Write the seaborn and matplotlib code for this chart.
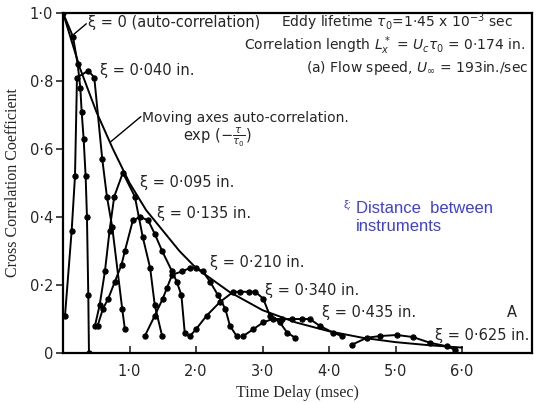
import seaborn as sns
import pandas as pd
import matplotlib.pyplot as plt

# time delay (msec) / cross correlation values
t_xi000 = [0.0, 0.15, 0.22, 0.26, 0.28, 0.31, 0.34, 0.36, 0.38, 0.39]
r_xi000 = [1.0, 0.93, 0.85, 0.78, 0.71, 0.63, 0.52, 0.40, 0.17, 0.0]

t_xi040 = [0.03, 0.13, 0.18, 0.21, 0.38, 0.47, 0.59, 0.66, 0.74, 0.89, 0.93]
r_xi040 = [0.11, 0.36, 0.52, 0.81, 0.83, 0.81, 0.57, 0.46, 0.37, 0.13, 0.07]

t_xi095 = [0.48, 0.55, 0.63, 0.70, 0.77, 0.90, 1.08, 1.20, 1.31, 1.38, 1.49]
r_xi095 = [0.08, 0.14, 0.24, 0.36, 0.46, 0.53, 0.46, 0.34, 0.25, 0.14, 0.05]

t_xi135 = [0.52, 0.60, 0.68, 0.78, 0.88, 0.93, 1.05, 1.16, 1.28, 1.38, 1.49, 1.64, 1.71, 1.78, 1.83]
r_xi135 = [0.08, 0.13, 0.16, 0.21, 0.26, 0.30, 0.39, 0.40, 0.39, 0.35, 0.30, 0.24, 0.21, 0.17, 0.06]

t_xi210 = [1.23, 1.38, 1.50, 1.56, 1.64, 1.79, 1.91, 2.00, 2.10, 2.21, 2.33, 2.44, 2.51, 2.61]
r_xi210 = [0.05, 0.11, 0.16, 0.19, 0.23, 0.24, 0.25, 0.25, 0.24, 0.21, 0.17, 0.13, 0.08, 0.05]

t_xi340 = [1.91, 2.00, 2.16, 2.36, 2.56, 2.66, 2.79, 2.89, 3.01, 3.11, 3.26, 3.37, 3.49]
r_xi340 = [0.05, 0.07, 0.11, 0.15, 0.18, 0.18, 0.18, 0.18, 0.16, 0.11, 0.09, 0.06, 0.045]

t_xi435 = [2.71, 2.86, 3.01, 3.15, 3.30, 3.45, 3.60, 3.71, 3.86, 4.06, 4.19]
r_xi435 = [0.05, 0.07, 0.09, 0.10, 0.10, 0.10, 0.10, 0.10, 0.08, 0.06, 0.05]

t_xi625 = [4.35, 4.57, 4.77, 5.02, 5.26, 5.52, 5.77, 5.89]
r_xi625 = [0.025, 0.045, 0.05, 0.053, 0.047, 0.03, 0.02, 0.01]

# moving axes auto-correlation envelope
t_env = [0.0, 0.25, 0.5, 0.75, 1.0, 1.25, 1.5, 1.75, 2.0, 2.5, 3.0, 3.5, 4.0, 4.5, 5.0, 5.5, 6.0]
r_env = [1.0, 0.84, 0.71, 0.60, 0.50, 0.42, 0.36, 0.30, 0.25, 0.18, 0.126, 0.09, 0.064, 0.045, 0.032, 0.023, 0.016]

curves = {
    '0': (t_xi000, r_xi000),
    '0.040': (t_xi040, r_xi040),
    '0.095': (t_xi095, r_xi095),
    '0.135': (t_xi135, r_xi135),
    '0.210': (t_xi210, r_xi210),
    '0.340': (t_xi340, r_xi340),
    '0.435': (t_xi435, r_xi435),
    '0.625': (t_xi625, r_xi625),
}

rows = []
for xi, (ts, rs) in curves.items():
    for t, r in zip(ts, rs):
        rows.append({'xi': xi, 'tau': t, 'R': r})
df = pd.DataFrame(rows)
env = pd.DataFrame({'tau': t_env, 'R': r_env})

sns.set_style('white')
plt.rcParams['font.family'] = ['DejaVu Sans']

fig = plt.figure(figsize=(5.4, 4.03), dpi=100)
ax = fig.add_axes([0.1167, 0.124, 0.8683, 0.844])

sns.lineplot(data=df, x='tau', y='R', units='xi', estimator=None, sort=False,
             color='black', linewidth=1.4, marker='o', markersize=3.8,
             markeredgecolor='black', ax=ax)
sns.lineplot(data=env, x='tau', y='R', color='black', linewidth=1.4, ax=ax)

ax.set_xlim(0, 7.05)
ax.set_ylim(0, 1.0)
for s in ax.spines.values():
    s.set_color('black')
    s.set_linewidth(1.6)

ax.set_xticks([1, 2, 3, 4, 5, 6])
ax.set_xticklabels(['1·0', '2·0', '3·0', '4·0', '5·0', '6·0'])
ax.set_yticks([0, 0.2, 0.4, 0.6, 0.8, 1.0])
ax.set_yticklabels(['0', '0·2', '0·4', '0·6', '0·8', '1·0'])
ax.tick_params(axis='x', direction='in', length=5, width=1.2, labelsize=10.5, pad=8)
ax.tick_params(axis='y', direction='out', length=5, width=1.2, labelsize=10.5, pad=2)
ax.tick_params(left=True, bottom=True)

ax.set_xlabel('Time Delay (msec)', family='Liberation Serif', fontsize=11.5, labelpad=4)
ax.set_ylabel('Cross Correlation Coefficient', family='Liberation Serif', fontsize=11.5, labelpad=6)

lab = dict(fontsize=10.5, va='center', ha='left')
ax.text(0.376, 0.972, 'ξ = 0 (auto-correlation)', **lab)
ax.plot([0.15, 0.35], [0.935, 0.968], color='black', lw=1)
ax.text(0.556, 0.832, 'ξ = 0·040 in.', **lab)
ax.text(1.19, 0.69, 'Moving axes auto-correlation.', fontsize=10, va='center', ha='left')
ax.text(1.80, 0.635, r'exp ($-\frac{\tau}{\tau_0}$)', fontsize=10.5, va='center', ha='left')
ax.plot([1.17, 0.71], [0.695, 0.62], color='black', lw=1)
ax.text(1.16, 0.50, 'ξ = 0·095 in.', **lab)
ax.text(1.41, 0.41, 'ξ = 0·135 in.', **lab)
ax.text(2.21, 0.265, 'ξ = 0·210 in.', **lab)
ax.text(3.04, 0.185, 'ξ = 0·340 in.', **lab)
ax.text(3.89, 0.118, 'ξ = 0·435 in.', **lab)
ax.text(5.59, 0.053, 'ξ = 0·625 in.', **lab)
ax.text(6.75, 0.12, 'A', fontsize=10.5, ha='center', va='center')

top = dict(fontsize=10, ha='right', va='center')
ax.text(6.76, 0.972, r'Eddy lifetime $\tau_0$=1·45 x 10$^{-3}$ sec', **top)
ax.text(6.95, 0.905, r'Correlation length $L_x^*$ = $U_c\tau_0$ = 0·174 in.', **top)
ax.text(7.0, 0.838, r'(a) Flow speed, $U_\infty$ = 193in./sec', **top)

blue = '#3c3cf0'
ax.text(4.22, 0.435, 'ξ:', color=blue, fontsize=8, family='Liberation Sans', ha='left', va='center')
ax.text(4.40, 0.426, 'Distance  between', color=blue, fontsize=12, family='Liberation Sans', ha='left', va='center')
ax.text(4.40, 0.372, 'instruments', color=blue, fontsize=12, family='Liberation Sans', ha='left', va='center')

fig.savefig('out.png', dpi=100)
